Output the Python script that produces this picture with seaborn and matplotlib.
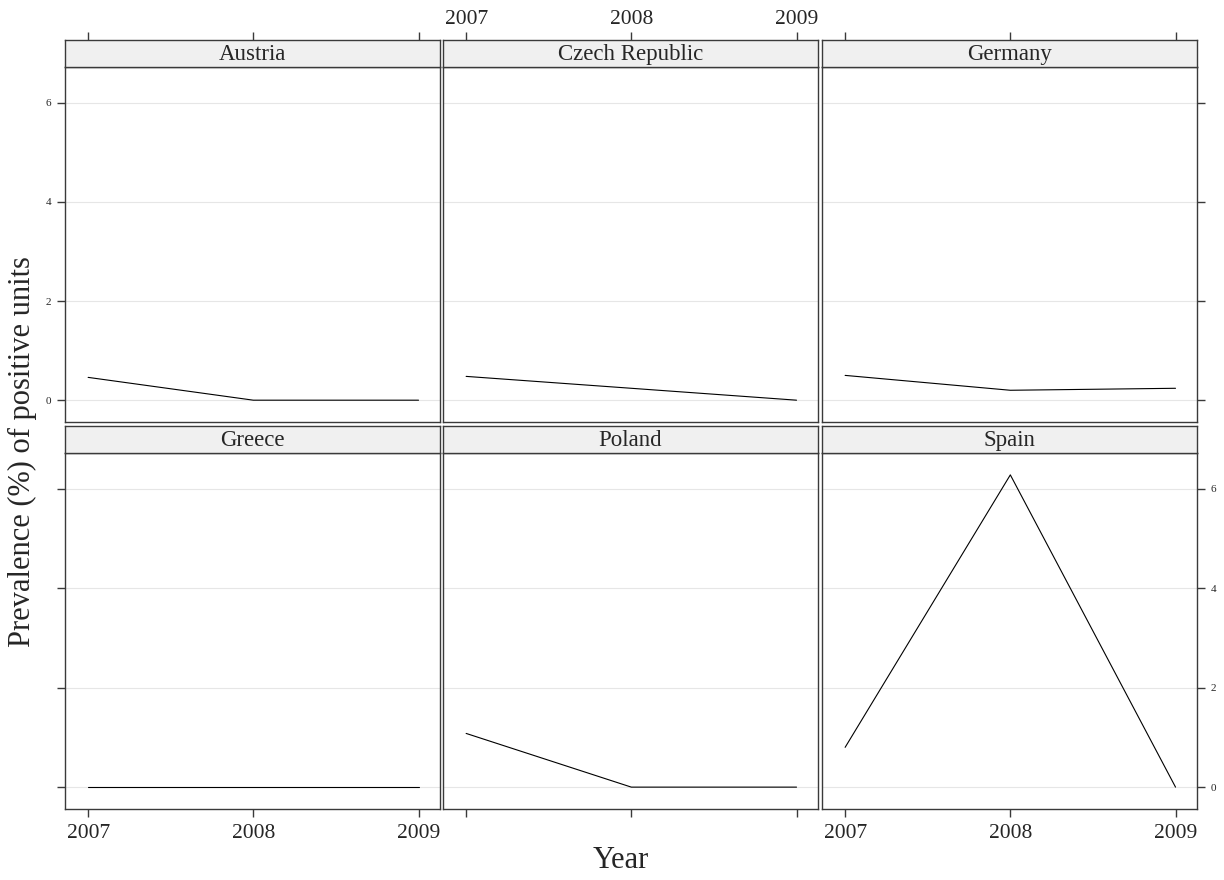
import matplotlib
matplotlib.use("Agg")
import matplotlib.pyplot as plt
import pandas as pd
import seaborn as sns

# values
countries = ["Austria", "Czech Republic", "Germany", "Greece", "Poland", "Spain"]
years = [2007, 2008, 2009]
austria = [0.46, 0.0, 0.0]
czech = [0.48, 0.24, 0.0]
germany = [0.50, 0.20, 0.24]
greece = [0.0, 0.0, 0.0]
poland = [1.08, 0.0, 0.0]
spain = [0.80, 6.28, 0.0]
y_ticks = [0, 2, 4, 6]

series = [austria, czech, germany, greece, poland, spain]
df = pd.DataFrame(
    [{"country": c, "year": yr, "prevalence": v}
     for c, vals in zip(countries, series)
     for yr, v in zip(years, vals)]
)

sns.set_style("white")
plt.rcParams["font.family"] = ["Liberation Serif", "DejaVu Serif"]

g = sns.relplot(data=df, x="year", y="prevalence", col="country", col_wrap=3,
                col_order=countries, kind="line", color="black", linewidth=0.8,
                height=4, aspect=1)
fig = g.figure
fig.set_size_inches(12.24, 8.8)

W, H = 1224.0, 880.0
col_left = [65, 443, 822]
col_w = 375
row_panel = [(67, 422), (453, 809)]
strip_h = 27
edge = "#3a3a3a"
xlim = (2006.86, 2009.13)
ylim = (-0.44, 6.72)

for i, ax in enumerate(g.axes.flat):
    r, c = divmod(i, 3)
    top, bot = row_panel[r]
    ax.set_position([col_left[c] / W, (H - bot) / H, col_w / W, (bot - top) / H])
    ax.set_title("")
    ax.set_xlabel("")
    ax.set_ylabel("")
    ax.set_xlim(*xlim)
    ax.set_ylim(*ylim)
    ax.set_xticks(years)
    ax.set_xticklabels([str(y) for y in years])
    ax.set_yticks(y_ticks)
    ax.set_yticklabels([str(y) for y in y_ticks])
    ax.yaxis.grid(True, color="#e6e6e6", linewidth=0.8)
    ax.set_axisbelow(True)
    for s in ax.spines.values():
        s.set_visible(True)
        s.set_color(edge)
        s.set_linewidth(1.0)
    ax.tick_params(axis="both", which="both", length=0, labelleft=False,
                   labelright=False, labelbottom=False, labeltop=False,
                   color=edge, width=1.0)
    # bottom ticks on lower row
    if r == 1:
        ax.tick_params(axis="x", bottom=True, length=6, pad=5,
                       labelbottom=(c != 1), labelsize=15.5)
    # y ticks on outer columns
    ax.yaxis.set_tick_params(labelsize=8)
    for lab in ax.get_yticklabels():
        lab.set_family("DejaVu Sans")
    if c == 0:
        ax.tick_params(axis="y", left=True, length=6, pad=4,
                       labelleft=(r == 0))
    if c == 2:
        ax.tick_params(axis="y", right=True, length=6, pad=4,
                       labelright=(r == 1))

    # strip on top of each panel
    sax = fig.add_axes([col_left[c] / W, (H - top) / H, col_w / W, strip_h / H])
    sax.set_facecolor("#f0f0f0")
    sax.set_xlim(*xlim)
    sax.set_ylim(0, 1)
    sax.set_yticks([])
    for s in sax.spines.values():
        s.set_color(edge)
        s.set_linewidth(1.0)
    sax.text(0.5, 0.45, countries[i], transform=sax.transAxes, ha="center",
             va="center", fontsize=16.5)
    if r == 0:
        sax.set_xticks(years)
        sax.set_xticklabels([str(y) for y in years])
        sax.tick_params(axis="x", bottom=False, labelbottom=False, top=True,
                        labeltop=(c == 1), length=6, pad=2, labelsize=15.5,
                        color=edge, width=1.0)
    else:
        sax.set_xticks([])

fig.text(22 / W, (H - 452) / H, "Prevalence (%) of positive units",
         rotation=90, ha="center", va="center", fontsize=22)
fig.text(621 / W, (H - 860) / H, "Year", ha="center", va="center", fontsize=22)

fig.savefig("out.png", dpi=100)
